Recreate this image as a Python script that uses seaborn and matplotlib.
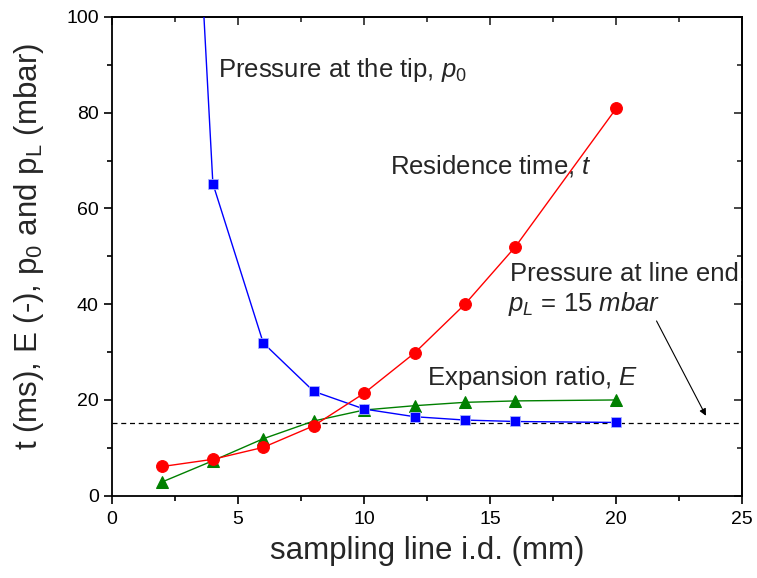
import matplotlib
matplotlib.use("Agg")
import matplotlib.pyplot as plt
import seaborn as sns
import numpy as np
import pandas as pd

# ---- data ----
diameter = [2, 4, 6, 8, 10, 12, 14, 16, 20]
residence_time = [6.1, 7.6, 10.1, 14.6, 21.4, 29.8, 40.0, 52.0, 80.9]
expansion_ratio = [2.9, 7.3, 11.9, 15.6, 17.9, 18.8, 19.5, 19.8, 20.0]
pressure_tip = [262, 65.2, 31.9, 21.8, 18.1, 16.5, 15.8, 15.5, 15.3]
line_end_pressure = 15.2
dash_x = [0, 25]

sns.set_style("ticks")
plt.rcParams["font.family"] = ["Liberation Sans", "DejaVu Sans"]
plt.rcParams["mathtext.fontset"] = "custom"
plt.rcParams["mathtext.rm"] = "Liberation Sans"
plt.rcParams["mathtext.it"] = "Liberation Sans:italic"

fig = plt.figure(figsize=(7.57, 5.78), dpi=100)
ax = fig.add_axes([0.148, 0.1424, 0.8325, 0.8282])

# dashed reference line
ax.plot(dash_x, [line_end_pressure, line_end_pressure], ls=(0, (4, 3)),
        color="black", lw=0.9, zorder=1)

df = pd.DataFrame({"d": diameter, "t": residence_time,
                   "E": expansion_ratio, "p0": pressure_tip})

sns.lineplot(data=df, x="d", y="p0", ax=ax, color="#0000ff", marker="s",
             markersize=7.5, markeredgecolor="#aab4ff", markeredgewidth=0.6,
             lw=1.0, zorder=3)
sns.lineplot(data=df, x="d", y="E", ax=ax, color="#008000", marker="^",
             markersize=9, markeredgecolor="#008000", lw=1.0, zorder=2)
sns.lineplot(data=df, x="d", y="t", ax=ax, color="#ff0000", marker="o",
             markersize=8.5, markeredgecolor="#ff0000", lw=1.0, zorder=4)

ax.set_xlim(0, 25)
ax.set_ylim(0, 100)
ax.set_xticks([0, 5, 10, 15, 20, 25])
ax.set_yticks([0, 20, 40, 60, 80, 100])
ax.set_xticks(np.arange(0, 25.1, 2.5), minor=True)
ax.set_yticks(np.arange(0, 100.1, 10), minor=True)

for s in ax.spines.values():
    s.set_linewidth(1.3)
    s.set_color("black")

ax.tick_params(axis="both", which="both", direction="out", width=1.2,
               color="black", labelsize=14, labelcolor="black")
ax.tick_params(axis="x", which="major", pad=5)
ax.tick_params(which="major", length=6)
ax.tick_params(which="minor", length=3.5)
ax.tick_params(bottom=True, left=True, top=False, right=False)

# inward ticks on top and right via secondary axes
axt = ax.secondary_xaxis("top")
axt.set_xticks([0, 5, 10, 15, 20, 25])
axt.set_xticks(np.arange(0, 25.1, 2.5), minor=True)
axt.tick_params(which="both", direction="in", width=1.2, labeltop=False)
axt.tick_params(which="major", length=6)
axt.tick_params(which="minor", length=3.5)
axt.spines["top"].set_linewidth(1.3)
axr = ax.secondary_yaxis("right")
axr.set_yticks([0, 20, 40, 60, 80, 100])
axr.set_yticks(np.arange(0, 100.1, 10), minor=True)
axr.tick_params(which="both", direction="in", width=1.2, labelright=False)
axr.tick_params(which="major", length=6)
axr.tick_params(which="minor", length=3.5)
axr.spines["right"].set_linewidth(1.3)

ax.set_xlabel("sampling line i.d. (mm)", fontsize=22.5)
ax.xaxis.set_label_coords(0.5, -0.085)
ax.set_ylabel(r"t (ms), E (-), p$_\mathregular{0}$ and p$_\mathregular{L}$ (mbar)",
              fontsize=22.5)
ax.yaxis.set_label_coords(-0.105, 0.52)

fs = 18.5
ax.text(4.19, 87.4, r"Pressure at the tip, $p_{0}$", fontsize=fs, va="baseline")
ax.text(11.02, 67.3, r"Residence time, $t$", fontsize=fs, va="baseline")
ax.text(15.78, 45.0, "Pressure at line end,", fontsize=fs, va="baseline",
        clip_on=True)
ax.text(15.71, 38.5, r"$p_{L}$ = 15 $mbar$", fontsize=fs, va="baseline")
ax.text(12.5, 23.2, r"Expansion ratio, $E$", fontsize=fs, va="baseline")

ax.annotate("", xy=(23.56, 16.7), xytext=(21.6, 36.5),
            arrowprops=dict(arrowstyle="-|>", color="black", lw=0.8,
                            mutation_scale=10, shrinkA=0, shrinkB=0))

fig.savefig("out.png", dpi=100)
